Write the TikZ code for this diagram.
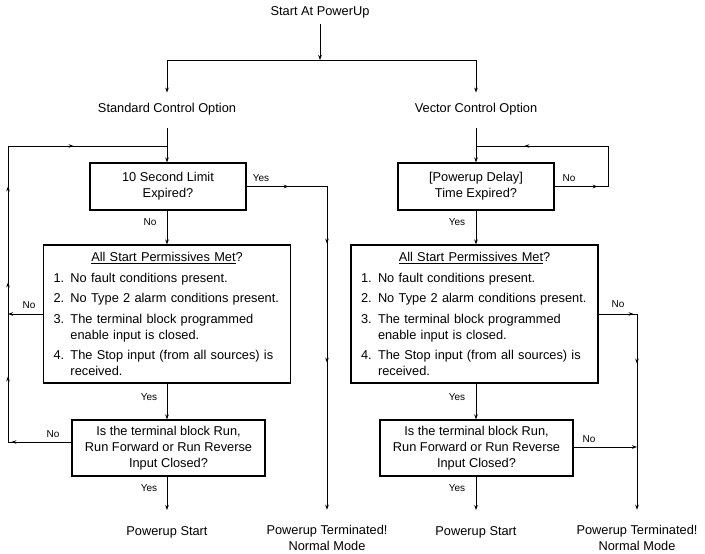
\documentclass[tikz,border=0pt]{standalone}
\usepackage{fontspec}
\setmainfont{Liberation Sans}
\usetikzlibrary{arrows.meta,decorations.markings}
\newcommand\pitem[2]{\hangindent=17pt\hangafter=1\noindent\makebox[17pt][l]{#1}#2\par}
\newcommand\permlist{%
\parskip=4.5pt
\makebox[\hsize][c]{\underline{All Start Permissives Met}?}\par
\pitem{1.}{\mbox{No fault conditions present.}}
\pitem{2.}{\mbox{No Type 2 alarm conditions present.}}
\pitem{3.}{\mbox{The terminal block programmed}\newline\mbox{enable input is closed.}}
\pitem{4.}{\mbox{The Stop input (from all sources) is}\newline\mbox{received.}}}
\tikzset{
  every node/.style={font=\fontsize{12.8}{16}\selectfont},
  box/.style={draw, line width=1.2pt, inner sep=0pt, align=center},
  txt/.style={inner sep=0pt, outer sep=0pt},
  lbl/.style={inner sep=0pt, font=\fontsize{10}{12}\selectfont},
  ln/.style={line width=0.8pt},
  arr/.style={ln, -{Stealth[length=5pt,width=3.6pt]}},
  mk/.style={postaction={decorate,decoration={markings,
     mark=at position #1 with {\arrow{Stealth[length=5pt,width=3.6pt]}}}}}
}
\begin{document}
\begin{tikzpicture}[x=1pt,y=-1pt]
\useasboundingbox (0,0) rectangle (705,554);
% titles
\node[txt] (start) at (320,12) {Start At PowerUp};
\node[txt] (std) at (167,109.5) {Standard Control Option};
\node[txt] (vec) at (476,109.5) {Vector Control Option};
% boxes
\node[box, minimum width=156pt, minimum height=47pt] (b1) at (168,186.5) {10 Second Limit\\Expired?};
\node[box, minimum width=247pt, minimum height=138pt, text width=227pt, align=left] (b2) at (167,314) {\permlist};
\node[box, minimum width=193pt, minimum height=56pt] (b3) at (168.5,448) {Is the terminal block Run,\\Run Forward or Run Reverse\\Input Closed?};
\node[box, minimum width=156pt, minimum height=47pt] (b4) at (476,186.5) {[Powerup Delay]\\Time Expired?};
\node[box, minimum width=247pt, minimum height=138pt, text width=227pt, align=left] (b5) at (474.5,314) {\permlist};
\node[box, minimum width=193pt, minimum height=56pt] (b6) at (476.5,448) {Is the terminal block Run,\\Run Forward or Run Reverse\\Input Closed?};
% end texts
\node[txt, anchor=base] (ps1) at (167,535) {Powerup Start};
\node[txt, anchor=base] (ps2) at (476,535) {Powerup Start};
\node[txt, align=center, anchor=north] (pt1) at (327,525.7) {Powerup Terminated!\\Normal Mode};
\node[txt, align=center, anchor=north] (pt2) at (637,525.7) {Powerup Terminated!\\Normal Mode};
% labels
\node[lbl] (l1) at (261,178) {Yes};
\node[lbl] (l2) at (150,222) {No};
\node[lbl] (l3) at (29,305) {No};
\node[lbl] (l4) at (149,397) {Yes};
\node[lbl] (l5) at (53,434) {No};
\node[lbl] (l6) at (149,488) {Yes};
\node[lbl] (r1) at (569,178) {No};
\node[lbl] (r2) at (457,222) {Yes};
\node[lbl] (r3) at (618,304) {No};
\node[lbl] (r4) at (457,397) {Yes};
\node[lbl] (r5) at (589,439) {No};
\node[lbl] (r6) at (457,488) {Yes};
% coordinates
\coordinate (split) at (320,60);
\coordinate (j1) at (167,146);
\coordinate (j2) at (476,146);
\coordinate (lb) at (8,442);
\coordinate (lt) at (8,146);
\coordinate (rt) at (608,146);
% top split
\draw[arr, shorten <=6pt] (start.south) -- (split);
\draw[arr, shorten >=11pt] (split) -| (std.north);
\draw[arr, shorten >=11pt] (split) -| (vec.north);
\draw[arr, shorten <=13pt] (std.south) -- (std |- b1.north);
\draw[arr, shorten <=13pt] (vec.south) -- (vec |- b4.north);
% left column
\draw[arr] (std |- b1.south) -- (std |- b2.north);
\draw[arr] (std |- b2.south) -- (std |- b3.north);
\draw[arr, shorten >=16pt] (std |- b3.south) -- (ps1.north);
\draw[arr] (b2.west) -- (b2.west -| lb);
\draw[ln, mk=60pt, mk=129pt, mk=223pt, mk=319pt, mk=425pt] (b3.west |- lb) -- (lb) -- (lt) -- (j1);
\draw[ln, mk=42pt, mk=137.5pt, mk=256.5pt, arr, shorten >=16pt] (b1.east) -| (pt1.north);
% right column
\draw[arr] (vec |- b4.south) -- (vec |- b5.north);
\draw[arr] (vec |- b5.south) -- (vec |- b6.north);
\draw[arr, shorten >=16pt] (vec |- b6.south) -- (ps2.north);
\draw[ln, mk=43pt, mk=177.5pt] (b4.east) -| (rt) -- (j2);
\draw[ln, mk=35pt, mk=88pt, arr, shorten >=16pt] (b5.east) -| (pt2.north);
\draw[arr] ([yshift=1pt]b6.east) -- ([yshift=1pt]b6.east -| pt2.north);
\end{tikzpicture}
\end{document}
